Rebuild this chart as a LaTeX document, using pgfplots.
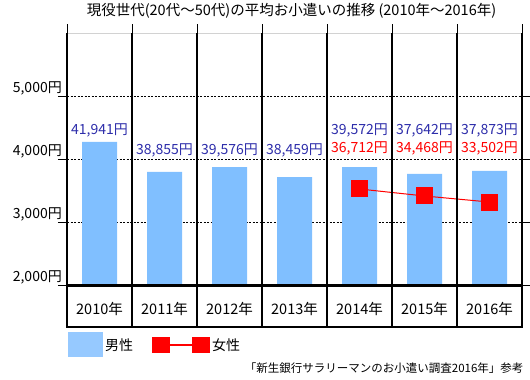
\documentclass[border=0pt]{standalone}
\usepackage{pgfplots}
\pgfplotsset{compat=1.18}
\usepackage{fontspec}
\setmainfont{Noto Sans CJK JP}
\definecolor{barblue}{RGB}{128,191,255}
\definecolor{legblue}{RGB}{150,201,255}
\definecolor{txtblue}{RGB}{45,45,170}
\newcommand\fs{\fontsize{14}{16}\selectfont}
\begin{document}
\begin{tikzpicture}[x=1pt,y=1pt]
\useasboundingbox (0,0) rectangle (530,-380);
\begin{axis}[
  at={(67pt,-285pt)}, anchor=south west,
  width=455pt, height=252pt, scale only axis,
  xmin=-0.5, xmax=6.5, ymin=2000, ymax=6000,
  axis line style={draw=none},
  clip=false,
  xtick={-0.5,0.5,...,6.5}, x tick label as interval,
  xticklabels={2010年,2011年,2012年,2013年,2014年,2015年,2016年},
  ytick={2000,3000,4000,5000},
  yticklabels={{2,000円},{3,000円},{4,000円},{5,000円}},
  tick align=outside, major tick length=9pt,
  tick style={black, line width=0.8pt},
  ymajorgrids,
  major grid style={black, line width=0.7pt, dash pattern=on 2pt off 1.5pt},
  yticklabel style={anchor=south east, inner sep=0pt, xshift=4pt, yshift=1pt, font=\fs},
  xticklabel style={font=\fontsize{14.5}{16}\selectfont, anchor=center, yshift=-15pt},
  title={現役世代(20代〜50代)の平均お小遣いの推移 (2010年〜2016年)},
  title style={font=\fontsize{14.5}{16}\selectfont, at={(0.5,1)}, anchor=center, yshift=16pt, xshift=-3pt},
  legend columns=2,
  legend cell align=left,
  legend style={draw=none, fill=none, inner sep=0pt, at={(0.002,-0.238)}, anchor=west, font=\fs,
    /tikz/every even column/.append style={column sep=17pt}},
]
\addplot[ybar, bar width=35pt, fill=barblue, draw=none,
  legend image code/.code={\fill[legblue] (0pt,-12.5pt) rectangle (35pt,12.5pt);}]
  coordinates {(0,4270) (1,3794) (2,3873) (3,3714) (4,3873) (5,3762) (6,3810)};
\addlegendentry{男性}
\addplot[red, line width=1pt, mark=square*, mark size=8pt, mark options={draw=none, fill=red},
  legend image code/.code={\draw[red, line width=1.5pt] (8pt,0pt) -- (48pt,0pt);
    \fill[red] (0pt,-7.5pt) rectangle (17pt,7.5pt);
    \fill[red] (40pt,-7.5pt) rectangle (57pt,7.5pt);}]
  coordinates {(4,3524) (5,3413) (6,3317)};
\addlegendentry{女性}
\node[txtblue, font=\fs] at (axis cs:0,4460) {41,941円};
\node[txtblue, font=\fs] at (axis cs:1,4132) {38,855円};
\node[txtblue, font=\fs] at (axis cs:2,4132) {39,576円};
\node[txtblue, font=\fs] at (axis cs:3,4132) {38,459円};
\node[txtblue, font=\fs] at (axis cs:4,4449) {39,572円};
\node[txtblue, font=\fs] at (axis cs:5,4449) {37,642円};
\node[txtblue, font=\fs] at (axis cs:6,4449) {37,873円};
\node[red, font=\fs] at (axis cs:4,4163) {36,712円};
\node[red, font=\fs] at (axis cs:5,4163) {34,468円};
\node[red, font=\fs] at (axis cs:6,4163) {33,502円};
\end{axis}
\draw[gray!35, line width=1pt] (67,-33) -- (522,-33);
\foreach \x in {67,132,197,262,327,392,457,522} \draw[line width=2pt] (\x,-33) -- (\x,-327);
\draw[line width=3pt] (66,-285) -- (523,-285);
\draw[line width=2.5pt] (66,-327) -- (523,-327);
\node[anchor=east, font=\fontsize{11.5}{12}\selectfont] at (527,-368) {「新生銀行サラリーマンのお小遣い調査2016年」参考};
\end{tikzpicture}
\end{document}
